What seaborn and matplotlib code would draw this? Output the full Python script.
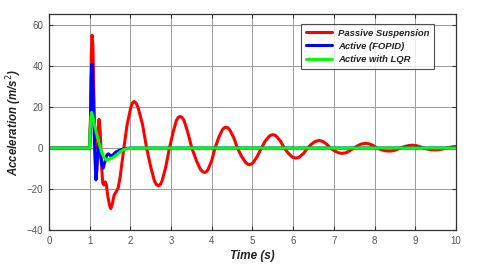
import pandas as pd
import matplotlib
matplotlib.use("Agg")
import matplotlib.pyplot as plt
import seaborn as sns

# values
passive_t = [0, 1.0, 1.02, 1.04, 1.06, 1.08, 1.10, 1.12, 1.14, 1.17, 1.20, 1.23, 1.26, 1.29,
             1.32, 1.35, 1.38, 1.41, 1.45, 1.49, 1.52, 1.56, 1.60, 1.66, 1.70, 1.75, 1.80,
             1.84, 1.92, 2.01, 2.05, 2.09, 2.14, 2.19, 2.30, 2.40,
             2.50, 2.59, 2.64, 2.69, 2.735, 2.78, 2.87, 2.96,
             3.05, 3.13, 3.175, 3.22, 3.27, 3.32, 3.41, 3.51,
             3.62, 3.72, 3.775, 3.83, 3.87, 3.91, 4.00, 4.08,
             4.17, 4.26, 4.305, 4.35, 4.395, 4.44, 4.54, 4.63,
             4.73, 4.83, 4.88, 4.93, 4.975, 5.02, 5.12, 5.22,
             5.31, 5.41, 5.455, 5.50, 5.545, 5.59, 5.69, 5.78,
             5.88, 5.97, 6.02, 6.07, 6.115, 6.16, 6.26, 6.35,
             6.45, 6.54, 6.64, 6.73, 6.82, 6.92, 7.01, 7.11, 7.20, 7.30, 7.39, 7.49,
             7.59, 7.68, 7.78, 7.87, 7.97, 8.06, 8.16, 8.26, 8.36, 8.45, 8.54, 8.63,
             8.73, 8.83, 8.93, 9.02, 9.11, 9.20, 9.29, 9.39, 9.48, 9.57, 9.67, 9.76,
             9.86, 9.95, 10.0]
passive_a = [0, 0, 15, 45, 55, 50, 30, 10, 2, 0, 8, 14, 8, -8,
             -17, -18, -16.5, -18, -24, -28, -29.5, -27, -23, -21, -19.5, -14, -6,
             0, 11.4, 19.7, 21.9, 22.7, 21.9, 19.7, 11.4, 0,
             -9.2, -16.0, -17.8, -18.4, -17.8, -16.0, -9.2, 0,
             7.7, 13.4, 14.9, 15.4, 14.9, 13.4, 7.7, 0,
             -6.0, -10.4, -11.5, -11.9, -11.5, -10.4, -6.0, 0,
             5.1, 8.9, 9.85, 10.2, 9.85, 8.9, 5.1, 0,
             -4.0, -7.0, -7.8, -8.1, -7.8, -7.0, -4.0, 0,
             3.3, 5.7, 6.3, 6.5, 6.3, 5.7, 3.3, 0,
             -2.5, -4.3, -4.7, -4.9, -4.7, -4.3, -2.5, 0,
             1.9, 3.2, 3.7, 3.2, 1.9, 0, -1.3, -2.3, -2.6, -2.3, -1.3, 0,
             1.2, 2.0, 2.3, 2.0, 1.2, 0, -0.8, -1.3, -1.5, -1.3, -0.8, 0,
             0.7, 1.2, 1.4, 1.2, 0.7, 0, -0.5, -0.8, -0.9, -0.8, -0.5, 0,
             0.4, 0.7, 0.8]

fopid_t = [0, 1.0, 1.02, 1.04, 1.06, 1.08, 1.10, 1.13, 1.155, 1.18, 1.21, 1.23, 1.26, 1.30,
           1.33, 1.37, 1.42, 1.46, 1.50, 1.54, 1.59, 1.64, 1.72, 1.80, 1.90, 2.0, 10.0]
fopid_a = [0, 0, 12, 35, 41, 32, 15, -5, -15.5, -10, 1, 3, -2, -8,
           -9.8, -7, -3.5, -2.8, -3.5, -4, -3, -2, -1.2, -0.6, -0.2, 0, 0]

lqr_t = [0, 1.0, 1.01, 1.03, 1.05, 1.08, 1.12, 1.17, 1.23, 1.29, 1.34, 1.40, 1.47, 1.55,
         1.62, 1.72, 1.83, 1.95, 2.1, 10.0]
lqr_a = [0, 0, 8, 15, 17.4, 15, 11, 7, 2.5, -1.7, -4.2, -5.7, -5.5, -4.8,
         -4, -2.3, -0.8, -0.2, 0, 0]

labels = ["Passive Suspension", "Active (FOPID)", "Active with LQR"]
colors = ["#ff0000", "#0000ff", "#00ff00"]

df = pd.concat([
    pd.DataFrame({"t": passive_t, "a": passive_a, "case": labels[0]}),
    pd.DataFrame({"t": fopid_t, "a": fopid_a, "case": labels[1]}),
    pd.DataFrame({"t": lqr_t, "a": lqr_a, "case": labels[2]}),
], ignore_index=True)

sns.set_style("ticks")
plt.rcParams["font.family"] = ["Liberation Sans", "DejaVu Sans"]

fig = plt.figure(figsize=(4.8, 2.72), dpi=100)
ax = fig.add_axes([0.102, 0.154, 0.848, 0.795])

sns.lineplot(data=df, x="t", y="a", hue="case", palette=colors, hue_order=labels,
             sort=False, estimator=None, linewidth=2.2, ax=ax,
             solid_joinstyle="round", solid_capstyle="round")

ax.set_xlim(0, 10)
ax.set_ylim(-40, 65.4)
ax.set_xticks(range(0, 11))
ax.set_yticks([-40, -20, 0, 20, 40, 60])
ax.grid(True, color="#9a9a9a", linewidth=0.7)
ax.set_axisbelow(True)
ax.tick_params(direction="in", top=True, right=True, length=3, labelsize=7,
               labelcolor="#555555", color="#333333", pad=4)
for s in ax.spines.values():
    s.set_color("#333333")
    s.set_linewidth(0.9)

ax.set_xlabel("Time (s)", fontsize=8.5, fontweight="bold", style="italic", color="#222222",
              labelpad=3)
ax.set_ylabel("Acceleration (m/s$^2$)", fontsize=8.3, fontweight="bold", style="italic",
              color="#222222", labelpad=2)

leg = ax.legend(loc="upper right", bbox_to_anchor=(0.946, 0.954), borderaxespad=0,
                fontsize=6.8, frameon=True, fancybox=False, edgecolor="#222222",
                handlelength=2.8, borderpad=0.5, labelspacing=0.45, handletextpad=0.6)
leg.get_frame().set_linewidth(0.8)
for txt in leg.get_texts():
    txt.set_fontweight("bold")
    txt.set_fontstyle("italic")
    txt.set_color("#222222")

fig.savefig("out.png", dpi=100)
